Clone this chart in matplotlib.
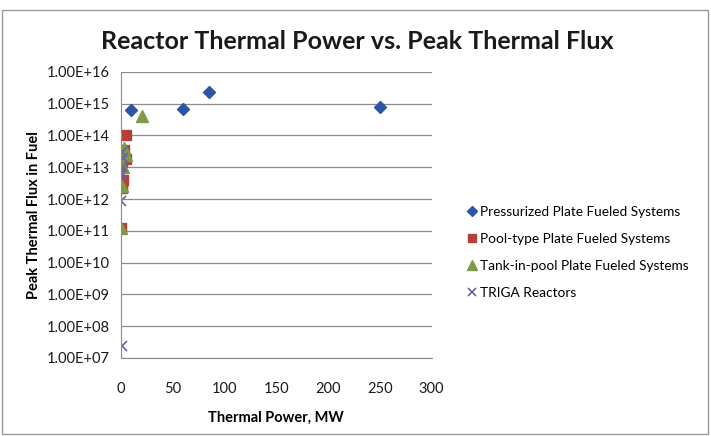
import math
import matplotlib.pyplot as plt
from matplotlib.ticker import FuncFormatter, FixedLocator
from matplotlib.patches import Rectangle

# Data
press_x = [10, 60, 85, 250]
press_y = [6.3e14, 6.7e14, 2.4e15, 8.0e14]

pool_x = [5, 3, 2, 5, 1, 2, 1, 1, 0.5]
pool_y = [1.0e14, 3.5e13, 2.0e13, 1.8e13, 1.5e13, 4.0e12, 3.0e12, 2.2e12, 1.2e11]

tank_x = [20, 3, 5, 2, 1, 0.5]
tank_y = [4.0e14, 4.0e13, 2.5e13, 1.0e13, 2.5e12, 1.2e11]

triga_x = [1, 2, 1, 0.3, 0.5, 0.25, 1]
triga_y = [3.0e13, 2.0e13, 1.0e13, 7.0e12, 6.0e12, 9.0e11, 2.4e7]

y_ticks = [1e7, 1e8, 1e9, 1e10, 1e11, 1e12, 1e13, 1e14, 1e15, 1e16]
x_ticks = [0, 50, 100, 150, 200, 250, 300]

plt.rcParams['font.family'] = ['Lato', 'DejaVu Sans']

# Figure and plot area
fig = plt.figure(figsize=(7.11, 4.36), dpi=100)
ax = fig.add_axes([0.170, 0.179, 0.437, 0.656])

# Chart frame
fig.patches.append(Rectangle((0.003, 0.005), 0.993, 0.972, transform=fig.transFigure,
                             fill=False, edgecolor='#9a9a9a', linewidth=1.0))

# Series
ax.plot(press_x, press_y, linestyle='none', marker='D', markersize=6.5,
        color='#2B56A6', label='Pressurized Plate Fueled Systems')
ax.plot(pool_x, pool_y, linestyle='none', marker='s', markersize=7.5,
        color='#B5403A', label='Pool-type Plate Fueled Systems')
ax.plot(tank_x, tank_y, linestyle='none', marker='^', markersize=8,
        color='#7F9A48', label='Tank-in-pool Plate Fueled Systems')
ax.plot(triga_x, triga_y, linestyle='none', marker='x', markersize=7.5,
        markeredgewidth=1.2, color='#6A5FA6', label='TRIGA Reactors')

# Axes scales
ax.set_yscale('log')
ax.set_ylim(1e7, 1e16)
ax.set_xlim(0, 300)
ax.yaxis.set_major_locator(FixedLocator(y_ticks))
ax.yaxis.set_minor_locator(FixedLocator([]))
ax.set_xticks(x_ticks)
ax.yaxis.set_major_formatter(FuncFormatter(lambda v, p: '1.00E+%02d' % round(math.log10(v))))

# Grid and spines
ax.grid(axis='y', color='#8c8c8c', linewidth=0.9)
ax.set_axisbelow(True)
for s in ['top', 'right']:
    ax.spines[s].set_visible(False)
for s in ['left', 'bottom']:
    ax.spines[s].set_color('#8c8c8c')
ax.tick_params(axis='both', length=0, labelsize=10.5, colors='#1a1a1a', pad=8)
ax.tick_params(axis='x', pad=17)

# Labels
ax.set_xlabel('Thermal Power, MW', fontsize=10.5, fontweight='bold', labelpad=11)
ax.set_ylabel('Peak Thermal Flux in Fuel', fontsize=10.5, fontweight='bold', labelpad=4)
fig.text(0.502, 0.905, 'Reactor Thermal Power vs. Peak Thermal Flux', ha='center', va='center',
         fontsize=18, fontweight='bold', color='#1a1a1a')

# Legend
ax.legend(loc='center left', bbox_to_anchor=(1.1, 0.37), frameon=False, fontsize=9.8,
          handlelength=0.6, handletextpad=0.3, labelspacing=1.1, borderaxespad=0,
          markerscale=0.85)

fig.savefig('out.png', dpi=100)
